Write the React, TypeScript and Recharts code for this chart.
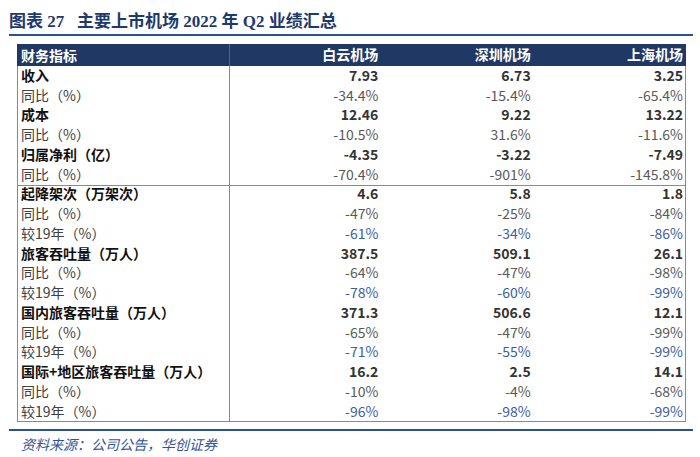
import React from 'react'
import { ScatterChart, Scatter, XAxis, YAxis } from 'recharts'

// table contents
const airports = ['白云机场', '深圳机场', '上海机场']
const rowLabels = [
  '收入', '同比（%）', '成本', '同比（%）', '归属净利（亿）', '同比（%）',
  '起降架次（万架次）', '同比（%）', '较19年（%）',
  '旅客吞吐量（万人）', '同比（%）', '较19年（%）',
  '国内旅客吞吐量（万人）', '同比（%）', '较19年（%）',
  '国际+地区旅客吞吐量（万人）', '同比（%）', '较19年（%）',
]
const rowKinds = [
  'main', 'yoy', 'main', 'yoy', 'main', 'yoy',
  'main', 'yoy', 'vs19',
  'main', 'yoy', 'vs19',
  'main', 'yoy', 'vs19',
  'main', 'yoy', 'vs19',
]
const baiyun = ['7.93', '-34.4%', '12.46', '-10.5%', '-4.35', '-70.4%', '4.6', '-47%', '-61%', '387.5', '-64%', '-78%', '371.3', '-65%', '-71%', '16.2', '-10%', '-96%']
const shenzhen = ['6.73', '-15.4%', '9.22', '31.6%', '-3.22', '-901%', '5.8', '-25%', '-34%', '509.1', '-47%', '-60%', '506.6', '-47%', '-55%', '2.5', '-4%', '-98%']
const shanghai = ['3.25', '-65.4%', '13.22', '-11.6%', '-7.49', '-145.8%', '1.8', '-84%', '-86%', '26.1', '-98%', '-99%', '12.1', '-99%', '-99%', '14.1', '-68%', '-99%']

const FONT = '"Noto Sans CJK SC", "Noto Sans", sans-serif'
const W = 700
const H = 457
const T_LEFT = 17
const T_RIGHT = 686
const HEAD_TOP = 44
const HEAD_H = 22
const LABEL_W = 212
const T_BOTTOM = 421.5
const ROW_H = (T_BOTTOM - HEAD_TOP - HEAD_H) / rowLabels.length
const colHalf = (T_RIGHT - T_LEFT - LABEL_W) / airports.length / 2

const valueColor: Record<string, string> = { main: '#333333', yoy: '#595959', vs19: '#3d5e9e' }

const columns = [baiyun, shenzhen, shanghai]
const cells = rowLabels.flatMap((_, r) =>
  airports.map((a, c) => ({ airport: a, row: 'r' + r, text: columns[c][r], kind: rowKinds[r] }))
)

const CellText = (props: any) => {
  const { cx, cy, payload } = props
  if (cx == null || cy == null) return null
  return (
    <text x={cx + colHalf - 3} y={cy} dy="0.36em" textAnchor="end" fontFamily={FONT} fontSize={14}
      fontWeight={payload.kind === 'main' ? 700 : 400} fill={valueColor[payload.kind]}>
      {payload.text}
    </text>
  )
}

const RowTick = (props: any) => {
  const { y, payload } = props
  const i = Number(String(payload.value).slice(1))
  const main = rowKinds[i] === 'main'
  return (
    <text x={T_LEFT + 4} y={y} dy="0.36em" textAnchor="start" fontFamily={FONT} fontSize={14}
      fontWeight={main ? 700 : 400} fill={main ? '#111111' : '#404040'}>
      {rowLabels[i]}
    </text>
  )
}

const HeadTick = (props: any) => {
  const { x, payload } = props
  return (
    <text x={x + colHalf - 3} y={HEAD_TOP + HEAD_H / 2} dy="0.36em" textAnchor="end" fontFamily={FONT}
      fontSize={14} fontWeight={700} fill="#ffffff">
      {payload.value}
    </text>
  )
}

const abs = (s: React.CSSProperties): React.CSSProperties => ({ position: 'absolute', ...s })

export default function App() {
  return (
    <div style={abs({ left: 0, top: 0, width: W, height: H, background: '#fff', overflow: 'hidden' })}>
      <div style={abs({ left: 9, top: 10, fontSize: 17, fontWeight: 700, color: '#1d3a6e', whiteSpace: 'pre', lineHeight: '24px',
        fontFamily: '"Liberation Serif", "Noto Sans CJK SC", serif' })}>
        {'图表 27   主要上市机场 2022 年 Q2 业绩汇总'}
      </div>
      <div style={abs({ left: 9, top: 34, width: 684, height: 2, background: '#2b5193' })} />

      {/* header band */}
      <div style={abs({ left: T_LEFT, top: HEAD_TOP, width: T_RIGHT - T_LEFT, height: HEAD_H, background: '#1f3864' })} />
      <div style={abs({ left: T_LEFT + LABEL_W, top: HEAD_TOP, width: 1, height: HEAD_H, background: '#50638a' })} />
      <div style={abs({ left: T_LEFT + 4, top: HEAD_TOP, height: HEAD_H, lineHeight: HEAD_H + 'px', fontFamily: FONT,
        fontSize: 14, fontWeight: 700, color: '#fff' })}>财务指标</div>

      <div style={abs({ left: 0, top: 0 })}>
        <ScatterChart width={W} height={H} margin={{ top: HEAD_TOP, left: T_LEFT, right: W - T_RIGHT, bottom: H - T_BOTTOM }}>
          <XAxis type="category" dataKey="airport" orientation="top" height={HEAD_H} allowDuplicatedCategory={false}
            interval={0} tickLine={false} axisLine={false} tick={<HeadTick />} />
          <YAxis type="category" dataKey="row" width={LABEL_W} reversed allowDuplicatedCategory={false}
            interval={0} tickLine={false} axisLine={false} tick={<RowTick />} />
          <Scatter data={cells} shape={<CellText />} isAnimationActive={false} />
        </ScatterChart>
      </div>

      {/* table frame */}
      <div style={abs({ left: T_LEFT, top: HEAD_TOP + HEAD_H, width: T_RIGHT - T_LEFT, height: T_BOTTOM - HEAD_TOP - HEAD_H,
        boxSizing: 'border-box', borderLeft: '1px solid #8a8a8a', borderRight: '1.5px solid #8a8a8a', borderBottom: '1.5px solid #8a8a8a' })} />
      <div style={abs({ left: T_LEFT + LABEL_W, top: HEAD_TOP + HEAD_H, width: 1, height: T_BOTTOM - HEAD_TOP - HEAD_H, background: '#8a8a8a' })} />
      <div style={abs({ left: T_LEFT, top: HEAD_TOP + HEAD_H + ROW_H * 6, width: T_RIGHT - T_LEFT, height: 1, background: '#8a8a8a' })} />

      <div style={abs({ left: 9, top: 429, width: 684, height: 2, background: '#2b5193' })} />
      <div style={abs({ left: 21, top: 434, fontSize: 14, fontStyle: 'italic', color: '#2f5597', lineHeight: '20px', fontFamily: FONT })}>
        资料来源：公司公告，华创证券
      </div>
    </div>
  )
}
